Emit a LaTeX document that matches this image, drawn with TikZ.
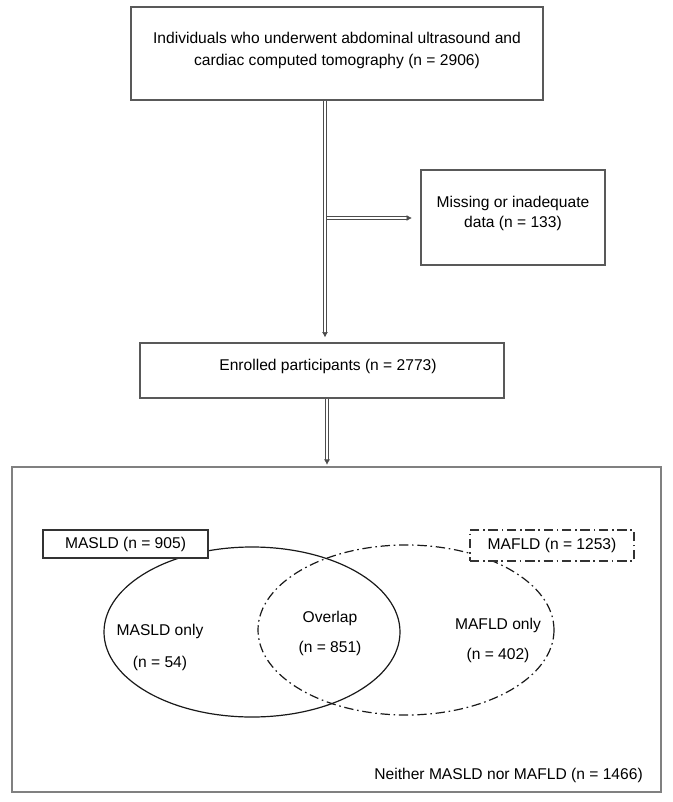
\documentclass[tikz,border=0pt]{standalone}
\usepackage{fontspec}
\setmainfont{Liberation Sans}
\usetikzlibrary{arrows.meta,fit,shapes.geometric}
\begin{document}
\begin{tikzpicture}[x=0.75pt,y=-0.75pt,
  font=\fontsize{11.7}{15}\selectfont,
  box/.style={draw=black!65,line width=1pt,inner sep=0pt},
  bigbox/.style={draw=black!50,line width=1.1pt,inner sep=0pt},
  txt/.style={align=center,inner sep=0pt},
  conn/.style={draw=black!70,line width=0.55pt,double=white,double distance=1.3pt,-{Latex[length=4pt,width=4.5pt]}},
  dashdot/.style={dash pattern=on 7pt off 2.8pt on 1.2pt off 2.8pt},
  venn/.style={draw=black!90,line width=0.9pt,ellipse,inner sep=0pt,minimum width=296*0.75pt,minimum height=170*0.75pt},
  ]
\useasboundingbox (0,0) rectangle (673,802);
\fill[white] (0,0) rectangle (673,802);
% boxes
\coordinate (a1) at (131,7);   \coordinate (a2) at (543,100);
\node[box,fit=(a1)(a2)] (top) {};
\coordinate (b1) at (421,170); \coordinate (b2) at (605,265);
\node[box,fit=(b1)(b2)] (miss) {};
\coordinate (c1) at (140,343); \coordinate (c2) at (504,398);
\node[box,fit=(c1)(c2)] (enr) {};
\coordinate (d1) at (12,467);  \coordinate (d2) at (661,792);
\node[bigbox,fit=(d1)(d2)] (big) {};
% texts
\node[txt,font=\fontsize{11.7}{16.5}\selectfont] (toptxt) at (337,50) {Individuals who underwent abdominal ultrasound and\\cardiac computed tomography (n = 2906)};
\node[txt] (misstxt) at (513,213) {Missing or inadequate\\data (n = 133)};
\node[txt] (enrtxt) at (328,366) {Enrolled participants (n = 2773)};
% connectors
\coordinate (vx) at (325,0);
\coordinate (br) at (325,218);
\coordinate (vx2) at (327,0);
\draw[conn,shorten >=8.5*0.75pt] (br) -- (miss.west |- br);
\draw[conn,shorten >=5*0.75pt] (top.south -| vx) -- (enr.north -| vx);
\draw[conn,shorten >=1.5*0.75pt] (enr.south -| vx2) -- (big.north -| vx2);
% venn
\node[venn] (masldE) at (252,632) {};
\node[venn,dashdot] (mafldE) at (406,630) {};
\coordinate (e1) at (43,530);  \coordinate (e2) at (208,558);
\node[box,draw=black!80,line width=0.8pt,fill=white,fit=(e1)(e2)] (masldbox) {};
\node[txt] (masldlbl) at (masldbox.center) {MASLD (n = 905)};
\coordinate (f1) at (470,530); \coordinate (f2) at (634,561);
\node[box,draw=black!80,line width=0.8pt,dashdot,fill=white,fit=(f1)(f2)] (mafldbox) {};
\node[txt] (mafldlbl) at (mafldbox.center) {MAFLD (n = 1253)};
\node[txt] (monly) at (160,631) {MASLD only};
\node[txt] (mn) at (160,663) {(n = 54)};
\node[txt] (ov) at (330,618) {Overlap};
\node[txt] (ovn) at (330,648) {(n = 851)};
\node[txt] (fonly) at (498,625) {MAFLD only};
\node[txt] (fn) at (498,655) {(n = 402)};
\node[txt,anchor=east] (neither) at (643,775) {Neither MASLD nor MAFLD (n = 1466)};
\end{tikzpicture}
\end{document}
